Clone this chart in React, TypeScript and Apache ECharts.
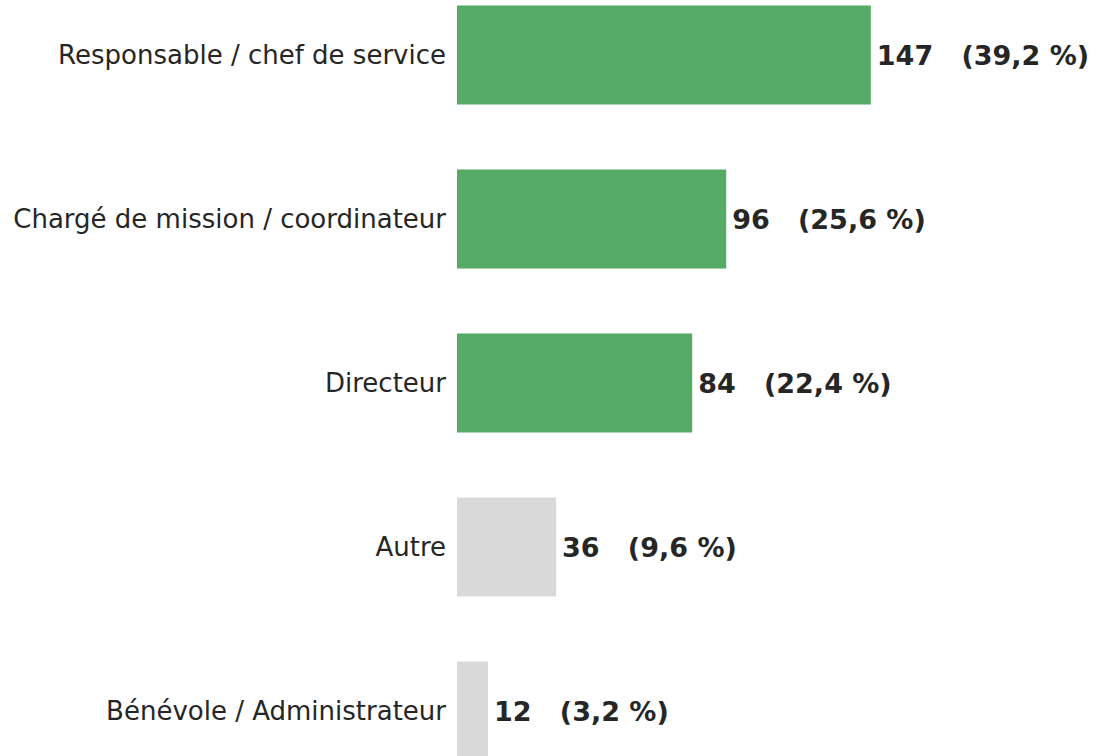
import React, { useEffect, useRef } from "react";
import * as echarts from "echarts";

const categories = [
  "Responsable / chef de service",
  "Chargé de mission / coordinateur",
  "Directeur",
  "Autre",
  "Bénévole / Administrateur",
];
const counts = [147, 96, 84, 36, 12];
const percents = ["39,2", "25,6", "22,4", "9,6", "3,2"];
const highlighted = [true, true, true, false, false];

const GREEN = "#55aa66";
const GREY = "#d9d9d9";
const TEXT = "#262626";

export default function App() {
  const ref = useRef<HTMLDivElement>(null);
  useEffect(() => {
    if (!ref.current) return;
    const chart = echarts.init(ref.current, undefined, { renderer: "svg" });
    chart.setOption({
      animation: false,
      backgroundColor: "#ffffff",
      grid: { left: 454, right: 5, top: 0, bottom: 0, containLabel: false },
      xAxis: {
        type: "value",
        min: 0,
        max: 225,
        show: false,
      },
      yAxis: {
        type: "category",
        inverse: true,
        data: categories,
        z: 10,
        axisTick: { show: false },
        axisLine: { show: true, lineStyle: { color: "#ffffff", width: 6 } },
        axisLabel: {
          margin: 8,
          fontFamily: "DejaVu Sans",
          fontSize: 26,
          color: TEXT,
        },
        splitLine: { show: false },
      },
      series: [
        {
          type: "bar",
          barWidth: 99,
          data: counts.map((v, i) => ({
            value: v,
            itemStyle: { color: highlighted[i] ? GREEN : GREY },
            label: {
              show: true,
              position: "right",
              distance: 6,
              formatter: `${v}   (${percents[i]} %)`,
              fontFamily: "DejaVu Sans",
              fontWeight: "bold",
              fontSize: 27,
              color: TEXT,
            },
          })),
        },
      ],
    });
    return () => chart.dispose();
  }, []);
  return (
    <div
      ref={ref}
      style={{ position: "fixed", left: 0, top: -27.5, width: 1097, height: 820 }}
    />
  );
}
